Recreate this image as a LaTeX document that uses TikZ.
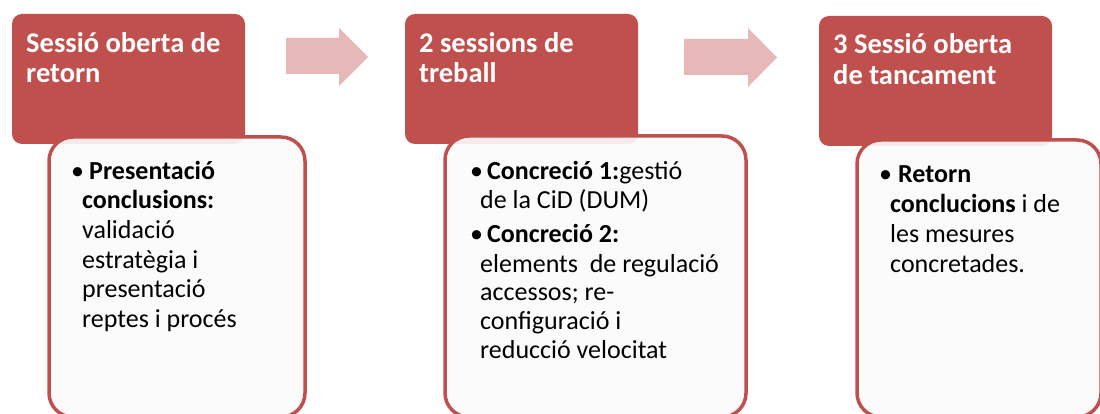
\documentclass[tikz,border=0pt]{standalone}
\usepackage{fontspec}
\setmainfont{Carlito}
\definecolor{hdrred}{RGB}{192,80,77}
\definecolor{arrpink}{RGB}{230,185,184}
\definecolor{bodyfill}{RGB}{251,251,251}
\tikzset{
  hdrbox/.style={fill=hdrred, draw=none, rounded corners=10pt},
  bodybox/.style={draw=hdrred, line width=3.5pt, fill=bodyfill, fill opacity=0.9, rounded corners=24pt},
  flowarrow/.style={fill=arrpink, draw=none},
  hdrtxt/.style={anchor=base west, inner sep=0pt, text=white, font=\fontsize{28.5}{30}\selectfont\bfseries},
  bodytxt/.style={anchor=base west, inner sep=0pt, text=black, font=\fontsize{26}{30}\selectfont},
}
\begin{document}
\begin{tikzpicture}[x=1pt,y=-1pt]
\useasboundingbox (0,0) rectangle (1100,414);
% headers
\path[hdrbox] (12,14) rectangle (245,144);
\path[hdrbox] (405,14) rectangle (638,144);
\path[hdrbox] (819,16) rectangle (1052,146);
% bodies
\path[bodybox] (49,137) rectangle (305,417);
\path[bodybox] (445,136) rectangle (746,417);
\path[bodybox] (857,140) rectangle (1101,417);
% arrows
\path[flowarrow] (286,38) -- (339,38) -- (339,28) -- (368,57) -- (339,86) -- (339,74) -- (286,74) -- cycle;
\path[flowarrow] (684,39) -- (748,39) -- (748,28) -- (777,57.5) -- (748,87) -- (748,75) -- (684,75) -- cycle;
% header texts
\node[hdrtxt] (h1a) at (26,53) {Sessió oberta de};
\node[hdrtxt] (h1b) at (26,83) {retorn};
\node[hdrtxt] (h2a) at (419,53) {2 sessions de};
\node[hdrtxt] (h2b) at (419,83) {treball};
\node[hdrtxt] (h3a) at (833,54) {3 Sessió oberta};
\node[hdrtxt] (h3b) at (833,85) {de tancament};
% body 1
\node[bodytxt] (b1u) at (71,180) {•};
\node[bodytxt] (b1a) at (89,180) {\textbf{Presentació}};
\node[bodytxt] (b1b) at (82,208) {\textbf{conclusions:}};
\node[bodytxt] (b1c) at (82,238) {validació};
\node[bodytxt] (b1d) at (82,268) {estratègia i};
\node[bodytxt] (b1e) at (82,297) {presentació};
\node[bodytxt] (b1f) at (82,327) {reptes i procés};
% body 2
\node[bodytxt] (b2u) at (470,180) {•};
\node[bodytxt] (b2a) at (487,180) {\textbf{Concreció 1:}gestió};
\node[bodytxt] (b2b) at (480,209) {de la CiD (DUM)};
\node[bodytxt] (b2v) at (470,242) {•};
\node[bodytxt] (b2c) at (487,242) {\textbf{Concreció 2:}};
\node[bodytxt] (b2d) at (480,272) {elements\ \ de regulació};
\node[bodytxt] (b2e) at (480,300) {accessos; re-};
\node[bodytxt] (b2f) at (480,329) {configuració i};
\node[bodytxt] (b2g) at (480,358) {reducció velocitat};
% body 3
\node[bodytxt] (b3u) at (879,183) {•};
\node[bodytxt] (b3a) at (898,183) {\textbf{Retorn}};
\node[bodytxt] (b3b) at (890,213) {\textbf{conclucions} i de};
\node[bodytxt] (b3c) at (890,242) {les mesures};
\node[bodytxt] (b3d) at (890,272) {concretades.};
\end{tikzpicture}
\end{document}
